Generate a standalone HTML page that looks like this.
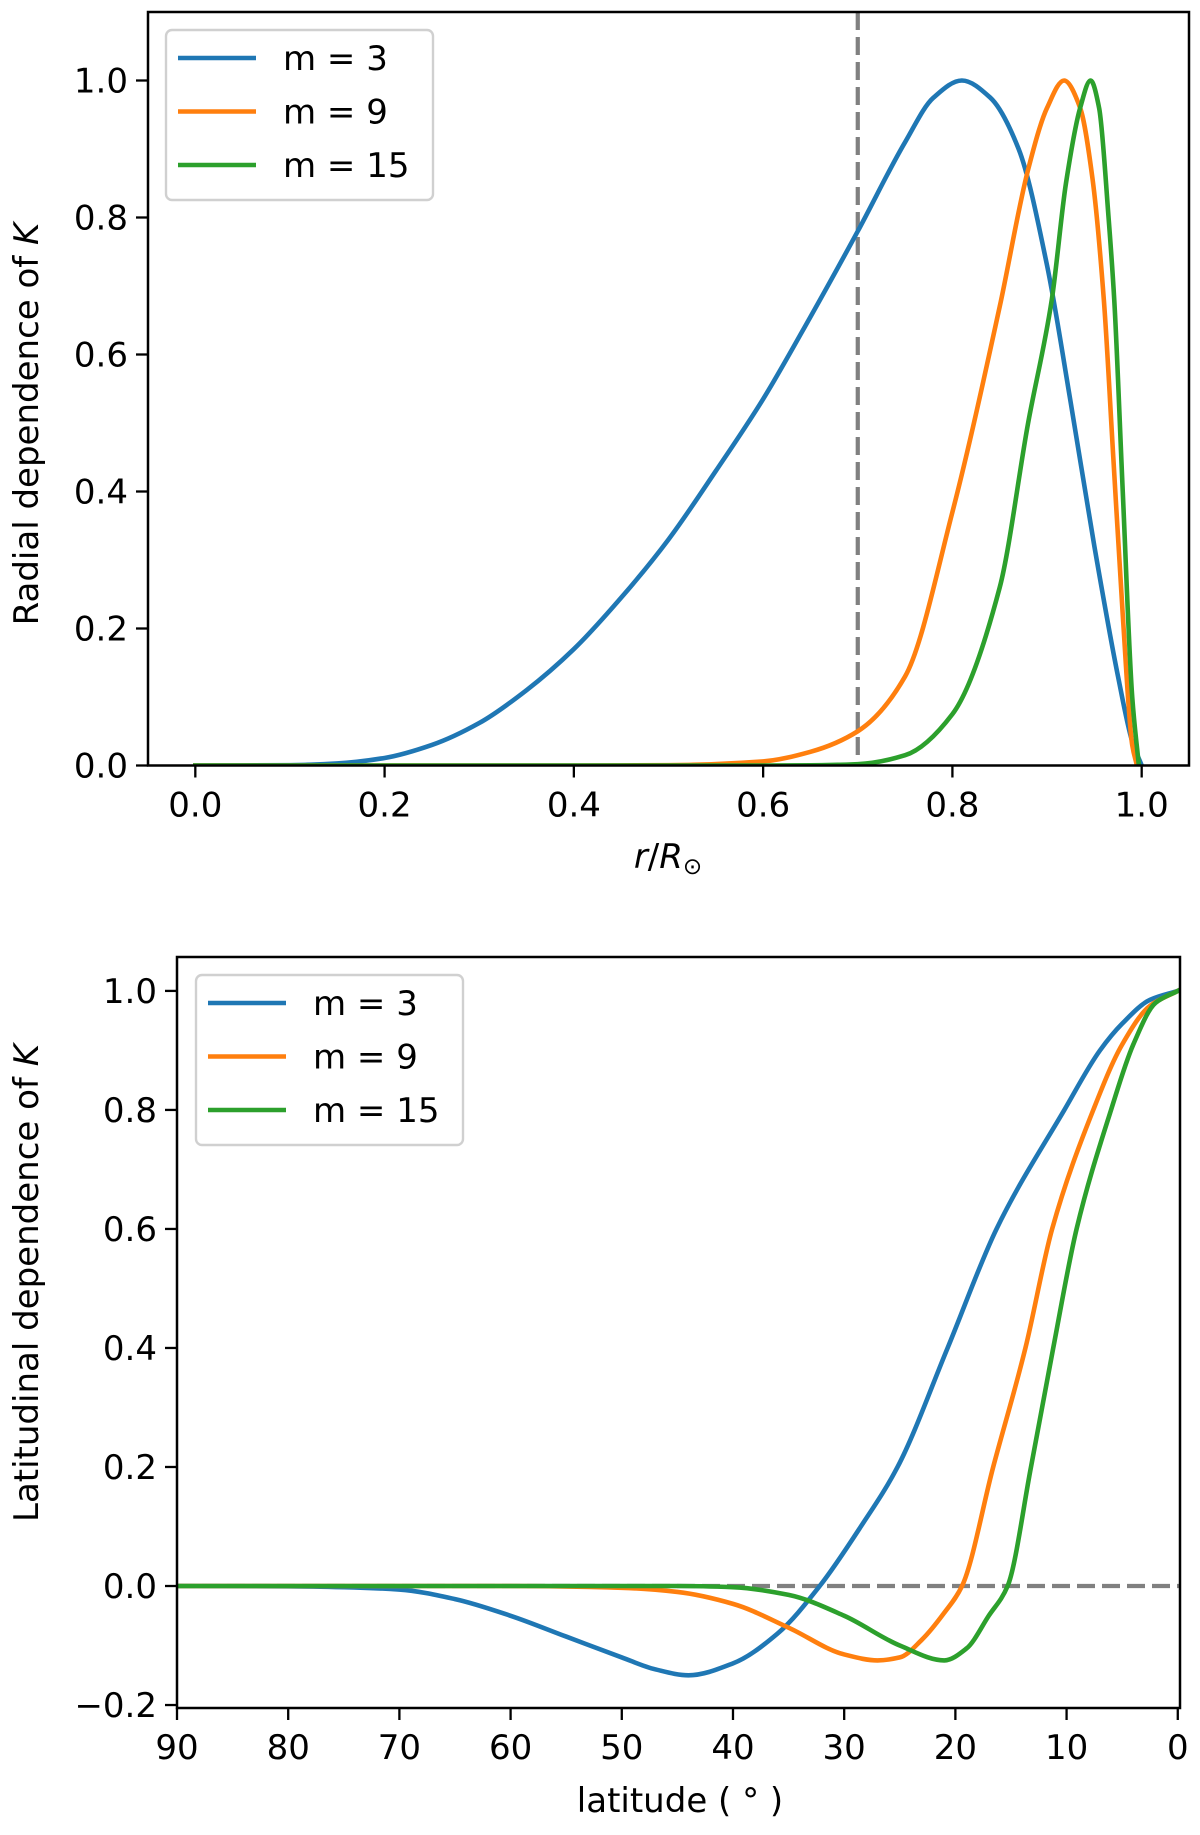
<!DOCTYPE html>
<html><head><meta charset="utf-8">
<style>
html,body{margin:0;padding:0;background:#fff;}
svg{display:block;font-family:"DejaVu Sans","Liberation Sans",sans-serif;}
</style></head>
<body>
<svg id="fig" width="1200" height="1835" viewBox="0 0 1200 1835" xmlns="http://www.w3.org/2000/svg"></svg>
<script>
// ---- Top chart data (radial dependence) ----
const topSeriesNames = ["m = 3", "m = 9", "m = 15"];
const topR3 = [0, 0.1, 0.15, 0.2, 0.25, 0.3, 0.35, 0.4, 0.45, 0.5, 0.55, 0.6, 0.65, 0.7, 0.75, 0.78, 0.81, 0.84, 0.87, 0.9, 0.925, 0.95, 0.975, 0.99, 1.0];
const topV3 = [0, 0.0005, 0.003, 0.011, 0.03, 0.062, 0.11, 0.17, 0.245, 0.33, 0.43, 0.535, 0.655, 0.78, 0.91, 0.975, 1.0, 0.975, 0.9, 0.73, 0.53, 0.32, 0.13, 0.035, 0];
const topR9 = [0, 0.4, 0.5, 0.6, 0.65, 0.7, 0.75, 0.8, 0.85, 0.88, 0.9, 0.918, 0.935, 0.948, 0.96, 0.97, 0.98, 0.99, 0.995];
const topV9 = [0, 0, 0.0005, 0.006, 0.02, 0.05, 0.13, 0.37, 0.67, 0.87, 0.96, 1.0, 0.96, 0.857, 0.68, 0.45, 0.22, 0.03, 0];
const topR15 = [0, 0.6, 0.65, 0.7, 0.75, 0.8, 0.85, 0.88, 0.905, 0.92, 0.935, 0.946, 0.955, 0.965, 0.971, 0.98, 0.99, 0.997];
const topV15 = [0, 0, 0.0003, 0.002, 0.015, 0.075, 0.26, 0.5, 0.68, 0.85, 0.96, 1.0, 0.96, 0.8, 0.68, 0.4, 0.1, 0];
const topXTicks = [0.0, 0.2, 0.4, 0.6, 0.8, 1.0];
const topYTicks = [0.0, 0.2, 0.4, 0.6, 0.8, 1.0];
const topVLine = [0.7];

// ---- Bottom chart data (latitudinal dependence) ----
const botLat3 = [90, 80, 75, 70, 65, 60, 55, 50, 47, 44, 40, 36, 32.2, 28.5, 25.2, 20.7, 16.3, 10.2, 7, 5, 2.5, 0];
const botV3 = [0, -0.0005, -0.002, -0.006, -0.022, -0.05, -0.085, -0.12, -0.14, -0.15, -0.13, -0.08, 0, 0.1, 0.2, 0.4, 0.6, 0.8, 0.9, 0.945, 0.985, 1.0];
const botLat9 = [90, 60, 50, 45, 40, 35, 30, 27, 25, 23, 21, 19.4, 16.6, 13.7, 11.3, 7.6, 5, 2.5, 0];
const botV9 = [0, 0, -0.003, -0.01, -0.03, -0.07, -0.115, -0.125, -0.12, -0.09, -0.045, 0, 0.2, 0.4, 0.6, 0.8, 0.91, 0.975, 1.0];
const botLat15 = [90, 45, 40, 35, 30, 25, 21, 19, 17, 15.3, 13.2, 11.2, 9.1, 6.0, 4, 2, 0];
const botV15 = [0, 0, -0.002, -0.015, -0.05, -0.1, -0.125, -0.105, -0.05, 0, 0.2, 0.4, 0.6, 0.8, 0.91, 0.98, 1.0];
const botXTicks = [90, 80, 70, 60, 50, 40, 30, 20, 10, 0];
const botYTicks = [-0.2, 0.0, 0.2, 0.4, 0.6, 0.8, 1.0];
const botHLine = [0.0];

const colors = ["#1f77b4", "#ff7f0e", "#2ca02c"];
const NS = "http://www.w3.org/2000/svg";
const svg = document.getElementById("fig");

function mk(tag, attrs, parent) {
  const e = document.createElementNS(NS, tag);
  for (const k in attrs) e.setAttribute(k, attrs[k]);
  (parent || svg).appendChild(e);
  return e;
}
// monotone cubic (Fritsch-Carlson) path through pixel points sorted by x
function smoothPath(pts) {
  const n = pts.length;
  const h = [], d = [];
  for (let i = 0; i < n - 1; i++) {
    h.push(pts[i + 1][0] - pts[i][0]);
    d.push((pts[i + 1][1] - pts[i][1]) / h[i]);
  }
  const m = new Array(n);
  m[0] = d[0]; m[n - 1] = d[n - 2];
  for (let i = 1; i < n - 1; i++) {
    if (d[i - 1] * d[i] <= 0) m[i] = 0;
    else {
      const w1 = 2 * h[i] + h[i - 1], w2 = h[i] + 2 * h[i - 1];
      m[i] = (w1 + w2) / (w1 / d[i - 1] + w2 / d[i]);
    }
  }
  let s = "M" + pts[0][0].toFixed(2) + "," + pts[0][1].toFixed(2);
  for (let i = 0; i < n - 1; i++) {
    const x0 = pts[i][0], y0 = pts[i][1], x1 = pts[i + 1][0], y1 = pts[i + 1][1];
    const dx = h[i] / 3;
    s += " C" + (x0 + dx).toFixed(2) + "," + (y0 + m[i] * dx).toFixed(2) + " " + (x1 - dx).toFixed(2) + "," + (y1 - m[i + 1] * dx).toFixed(2) + " " + x1.toFixed(2) + "," + y1.toFixed(2);
  }
  return s;
}

function drawChart(cfg) {
  const g = mk("g", {});
  
  
  const sx = v => cfg.L + (v - cfg.x0) / (cfg.x1 - cfg.x0) * (cfg.R - cfg.L);
  const sy = v => cfg.B - (v - cfg.y0) / (cfg.y1 - cfg.y0) * (cfg.B - cfg.T);
  mk("defs", {}, g).innerHTML = '<clipPath id="clip-' + cfg.name + '"><rect x="' + cfg.L + '" y="' + cfg.T + '" width="' + (cfg.R - cfg.L) + '" height="' + (cfg.B - cfg.T) + '"/></clipPath>';
  const plot = mk("g", { "clip-path": "url(#clip-" + cfg.name + ")" }, g);
  
  
  cfg.vlines.forEach(v => {
    const l = mk("line", { x1: sx(v), x2: sx(v), y1: cfg.T, y2: cfg.B, stroke: "#808080", "stroke-width": 4.2, "stroke-dasharray": "18 7" }, plot);
    
    
  });
  cfg.hlines.forEach(v => {
    const l = mk("line", { x1: cfg.L, x2: cfg.R, y1: sy(v), y2: sy(v), stroke: "#808080", "stroke-width": 4.2, "stroke-dasharray": "18 7" }, plot);
    
    
  });
  cfg.series.forEach((s, i) => {
    let pts = s.xs.map((x, j) => [sx(x), sy(s.ys[j])]);
    if (pts[0][0] > pts[pts.length - 1][0]) pts = pts.slice().reverse();
    const p = mk("path", { d: smoothPath(pts), fill: "none", stroke: colors[i], "stroke-width": 4.6, "stroke-linejoin": "round", "stroke-linecap": "square" }, plot);
    
    
  });
  const frame = mk("rect", { x: cfg.L, y: cfg.T, width: cfg.R - cfg.L, height: cfg.B - cfg.T, fill: "none", stroke: "#000", "stroke-width": 2.5 }, g);
  
  
  cfg.xticks.forEach(v => {
    const x = sx(v);
    const t = mk("line", { x1: x, x2: x, y1: cfg.B, y2: cfg.B + 12, stroke: "#000", "stroke-width": 2.3 }, g);
    
    
    const tx = mk("text", { x: x, y: cfg.B + 51, "text-anchor": "middle", "font-size": 34, fill: "#000" }, g);
    tx.textContent = cfg.xfmt(v);
    
    
  });
  cfg.yticks.forEach(v => {
    const y = sy(v);
    const t = mk("line", { x1: cfg.L - 12, x2: cfg.L, y1: y, y2: y, stroke: "#000", "stroke-width": 2.3 }, g);
    
    
    const tx = mk("text", { x: cfg.L - 20, y: y + 12, "text-anchor": "end", "font-size": 34, fill: "#000" }, g);
    tx.textContent = (v < 0 ? "\u2212" : "") + Math.abs(v).toFixed(1);
    
    
  });
  const lg = mk("g", {}, g);
  
  
  const bx = mk("rect", { x: cfg.legX, y: cfg.legY, width: 267, height: 170, rx: 6, fill: "#fff", "fill-opacity": 0.8, stroke: "#d0d0d0", "stroke-width": 2.4 }, lg);
  
  
  cfg.series.forEach((s, i) => {
    const yy = cfg.legY + 28 + i * 53.5;
    const ln = mk("line", { x1: cfg.legX + 12, x2: cfg.legX + 90, y1: yy, y2: yy, stroke: colors[i], "stroke-width": 4.6 }, lg);
    
    
    const tx = mk("text", { x: cfg.legX + 117, y: yy + 12, "font-size": 34, fill: "#000" }, lg);
    tx.textContent = s.label;
    
    
  });
}

drawChart({
  name: "radial-chart", L: 148, R: 1189, T: 12, B: 765.5,
  x0: -0.05, x1: 1.05, y0: 0, y1: 1.1,
  xticks: topXTicks, yticks: topYTicks, xfmt: v => v.toFixed(1),
  vlines: topVLine, hlines: [],
  legX: 166, legY: 30,
  series: [
    { label: topSeriesNames[0], xs: topR3, ys: topV3 },
    { label: topSeriesNames[1], xs: topR9, ys: topV9 },
    { label: topSeriesNames[2], xs: topR15, ys: topV15 }
  ]
});
drawChart({
  name: "latitudinal-chart", L: 177, R: 1180, T: 957, B: 1708,
  x0: 90, x1: -0.2, y0: -0.205, y1: 1.057,
  xticks: botXTicks, yticks: botYTicks, xfmt: v => String(v),
  vlines: [], hlines: botHLine,
  legX: 196, legY: 975,
  series: [
    { label: topSeriesNames[0], xs: botLat3, ys: botV3 },
    { label: topSeriesNames[1], xs: botLat9, ys: botV9 },
    { label: topSeriesNames[2], xs: botLat15, ys: botV15 }
  ]
});

const t1 = mk("text", { x: 668, y: 868, "text-anchor": "middle", "font-size": 34, fill: "#000" });
t1.innerHTML = '<tspan font-style="italic">r</tspan>/<tspan font-style="italic">R</tspan><tspan font-size="23" dy="6">\u2299</tspan>';


const t2 = mk("text", { x: 0, y: 0, "text-anchor": "middle", "font-size": 34, fill: "#000", transform: "translate(38,424) rotate(-90)" });
t2.innerHTML = 'Radial dependence of <tspan font-style="italic">K</tspan>';


const t3 = mk("text", { x: 680, y: 1812, "text-anchor": "middle", "font-size": 34, fill: "#000" });
t3.textContent = "latitude ( \u00b0 )";


const t4 = mk("text", { x: 0, y: 0, "text-anchor": "middle", "font-size": 34, fill: "#000", transform: "translate(38,1283) rotate(-90)" });
t4.innerHTML = 'Latitudinal dependence of <tspan font-style="italic">K</tspan>';


</script>
</body></html>
